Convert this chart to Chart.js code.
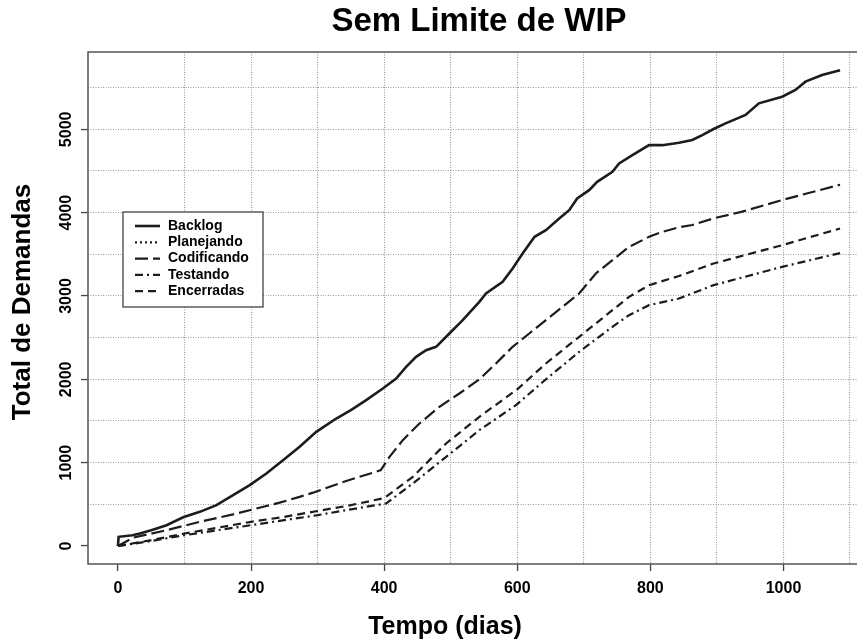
<!DOCTYPE html>
<html><head><meta charset="utf-8">
<script src="https://cdn.jsdelivr.net/npm/chart.js@4.4.1/dist/chart.umd.min.js"></script>
<style>
html,body{margin:0;padding:0;background:#fff;overflow:hidden;width:857px;height:642px}
#wrap{position:relative;width:880px;height:642px}
</style></head><body>
<div id="wrap"><canvas id="c" width="880" height="642"></canvas></div>
<script>
const chartTitle = 'Sem Limite de WIP';
const xTitle = 'Tempo (dias)';
const yTitle = 'Total de Demandas';
const seriesNames = ['Backlog', 'Planejando', 'Codificando', 'Testando', 'Encerradas'];
const xTickLabels = [0, 200, 400, 600, 800, 1000];
const yTickLabels = [0, 1000, 2000, 3000, 4000, 5000];
const xGridValues = [0, 100, 200, 300, 400, 500, 600, 700, 800, 900, 1000, 1100];
const yGridValues = [0, 500, 1000, 1500, 2000, 2500, 3000, 3500, 4000, 4500, 5000, 5500];

const backlogDays   = [0, 1, 22, 33, 50, 73, 98, 123, 148, 173, 198, 223, 248, 273, 298, 328, 350, 373, 398, 418, 433, 448, 463, 478, 498, 518, 543, 553, 578, 593, 608, 626, 643, 663, 678, 690, 708, 720, 743, 753, 773, 798, 818, 843, 863, 878, 895, 913, 943, 963, 998, 1018, 1033, 1058, 1085];
const backlogTotals = [0, 110, 130, 150, 190, 250, 345, 410, 490, 610, 730, 870, 1030, 1190, 1370, 1530, 1630, 1750, 1890, 2010, 2150, 2270, 2350, 2390, 2550, 2710, 2930, 3030, 3170, 3330, 3510, 3710, 3790, 3930, 4030, 4170, 4270, 4370, 4490, 4590, 4690, 4810, 4810, 4840, 4872, 4930, 5004, 5072, 5172, 5312, 5392, 5472, 5572, 5652, 5710];

const planejandoDays   = [];
const planejandoTotals = [];

const codificandoDays   = [0, 23, 73, 123, 173, 223, 243, 273, 293, 343, 395, 408, 428, 453, 483, 513, 543, 568, 593, 618, 643, 668, 693, 718, 743, 768, 798, 818, 843, 863, 895, 938, 998, 1085];
const codificandoTotals = [0, 100, 190, 290, 380, 480, 520, 590, 640, 780, 910, 1070, 1270, 1470, 1670, 1830, 2000, 2190, 2390, 2550, 2710, 2870, 3030, 3270, 3430, 3590, 3710, 3770, 3824, 3852, 3932, 4012, 4152, 4335];

const testandoDays   = [0, 50, 100, 150, 200, 250, 300, 350, 403, 443, 493, 543, 598, 643, 693, 743, 768, 798, 843, 895, 998, 1085];
const testandoTotals = [0, 60, 130, 190, 250, 310, 370, 440, 510, 750, 1070, 1390, 1690, 2000, 2330, 2630, 2770, 2890, 2970, 3130, 3350, 3515];

const encerradasDays   = [0, 50, 100, 150, 200, 250, 300, 350, 400, 443, 493, 543, 600, 643, 693, 743, 768, 798, 843, 895, 998, 1085];
const encerradasTotals = [0, 70, 150, 220, 290, 350, 420, 490, 575, 830, 1230, 1550, 1880, 2190, 2510, 2830, 2990, 3130, 3240, 3390, 3610, 3810];

const toPoints = (days, totals) => days.map((d, i) => ({x: d, y: totals[i]}));

const FONT = '"Liberation Sans", Arial, Helvetica, sans-serif';
const LINE = '#1c1c1c';

const plotBox = {
  id: 'plotBox',
  beforeDatasetsDraw(chart) {
    const {ctx, chartArea: a} = chart;
    ctx.save();
    ctx.strokeStyle = '#555';
    ctx.lineWidth = 1.5;
    ctx.strokeRect(a.left, a.top, a.right - a.left, a.bottom - a.top);
    ctx.restore();
  }
};

const boxLegend = {
  id: 'boxLegend',
  afterDatasetsDraw(chart) {
    const {ctx, chartArea: a} = chart;
    const L = a.left + 35, T = a.top + 160, W = 140, H = 95;
    ctx.save();
    ctx.fillStyle = '#fff';
    ctx.fillRect(L, T, W, H);
    ctx.strokeStyle = '#444';
    ctx.lineWidth = 1.3;
    ctx.strokeRect(L, T, W, H);
    chart.data.datasets.forEach((ds, i) => {
      const y = T + 14 + i * 16.3;
      ctx.setLineDash(ds.borderDash || []);
      ctx.lineWidth = ds.borderWidth;
      ctx.strokeStyle = ds.borderColor;
      ctx.beginPath();
      ctx.moveTo(L + 12, y);
      ctx.lineTo(L + 37, y);
      ctx.stroke();
      ctx.setLineDash([]);
      ctx.fillStyle = '#000';
      ctx.font = 'bold 14px ' + FONT;
      ctx.textBaseline = 'middle';
      ctx.textAlign = 'left';
      ctx.fillText(ds.label, L + 45, y);
    });
    ctx.restore();
  }
};

const axisTitles = {
  id: 'axisTitles',
  afterDraw(chart) {
    const {ctx, chartArea: a} = chart;
    ctx.save();
    ctx.fillStyle = '#000';
    ctx.textAlign = 'center';
    ctx.textBaseline = 'middle';
    ctx.font = 'bold 25px ' + FONT;
    ctx.fillText(xTitle, a.left + 357, 627);
    ctx.translate(23, a.top + 250);
    ctx.rotate(-Math.PI / 2);
    ctx.font = 'bold 26px ' + FONT;
    ctx.fillText(yTitle, 0, 0);
    ctx.restore();
  }
};

new Chart(document.getElementById('c'), {
  type: 'line',
  data: {
    datasets: [
      {label: seriesNames[0], data: toPoints(backlogDays, backlogTotals), borderColor: LINE, borderWidth: 2.6, borderDash: []},
      {label: seriesNames[1], data: toPoints(planejandoDays, planejandoTotals), borderColor: LINE, borderWidth: 2.2, borderDash: [2, 3]},
      {label: seriesNames[2], data: toPoints(codificandoDays, codificandoTotals), borderColor: LINE, borderWidth: 2.2, borderDash: [13, 5]},
      {label: seriesNames[3], data: toPoints(testandoDays, testandoTotals), borderColor: LINE, borderWidth: 2.2, borderDash: [8, 4, 2, 4]},
      {label: seriesNames[4], data: toPoints(encerradasDays, encerradasTotals), borderColor: LINE, borderWidth: 2.2, borderDash: [8, 5]}
    ]
  },
  options: {
    responsive: false,
    animation: false,
    events: [],
    elements: {point: {radius: 0}, line: {tension: 0, borderCapStyle: 'butt'}},
    layout: {padding: {left: 0, right: 10, top: 0, bottom: 0}},
    plugins: {
      legend: {display: false},
      tooltip: {enabled: false},
      title: {
        display: true, text: chartTitle, fullSize: false, color: '#000',
        font: {family: FONT, size: 33, weight: 'bold', lineHeight: 1.2},
        padding: {top: 2, bottom: 10.4}
      }
    },
    scales: {
      x: {
        type: 'linear', min: -45, max: 1130,
        afterBuildTicks(s) { s.ticks = xGridValues.map(v => ({value: v})); },
        afterFit(s) { s.height = 78; },
        border: {display: false, dash: [1, 1.5]},
        grid: {
          color: c => (c.tick && c.tick.value === 0) ? 'rgba(0,0,0,0)' : '#999',
          lineWidth: 1.1,
          tickLength: 7,
          tickColor: c => (c.tick && xTickLabels.includes(c.tick.value)) ? '#444' : 'rgba(0,0,0,0)',
          tickWidth: 1.3,
          tickBorderDash: []
        },
        ticks: {
          autoSkip: false, maxRotation: 0, minRotation: 0,
          padding: 8, color: '#000',
          font: {family: FONT, size: 16, weight: 'bold'},
          callback: v => xTickLabels.includes(v) ? String(v) : ''
        }
      },
      y: {
        type: 'linear', min: -216, max: 5928,
        afterBuildTicks(s) { s.ticks = yGridValues.map(v => ({value: v})); },
        afterFit(s) { s.width = 88; },
        border: {display: false, dash: [1, 1.5]},
        grid: {
          color: c => (c.tick && c.tick.value === 0) ? 'rgba(0,0,0,0)' : '#999',
          lineWidth: 1.1,
          tickLength: 7,
          tickColor: c => (c.tick && yTickLabels.includes(c.tick.value)) ? '#444' : 'rgba(0,0,0,0)',
          tickWidth: 1.3,
          tickBorderDash: []
        },
        ticks: {
          autoSkip: false,
          minRotation: 90, maxRotation: 90, crossAlign: 'center',
          padding: -3, color: '#000',
          font: {family: FONT, size: 16, weight: 'bold'},
          callback: v => yTickLabels.includes(v) ? String(v) : ''
        }
      }
    }
  },
  plugins: [plotBox, boxLegend, axisTitles]
});
</script>
</body></html>
